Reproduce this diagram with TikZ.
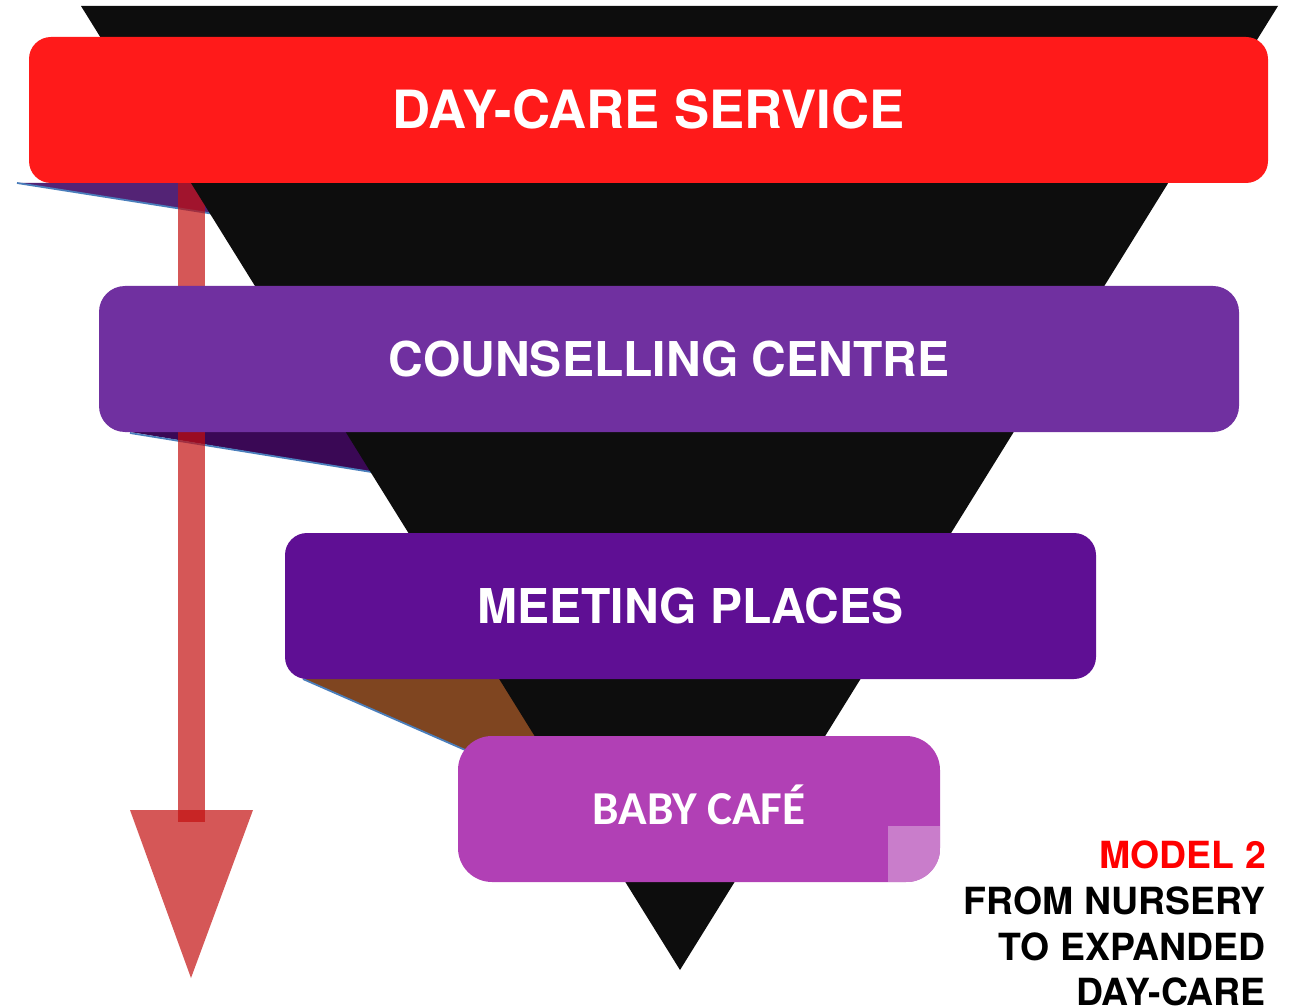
\documentclass[tikz,border=0pt]{standalone}
\usepackage{fontspec}
\setmainfont{TeX Gyre Heros}
\newfontfamily\calib{Carlito}
\definecolor{dayred}{RGB}{255,26,26}
\definecolor{counsel}{RGB}{112,48,160}
\definecolor{meetc}{RGB}{95,15,148}
\definecolor{babyc}{RGB}{177,64,181}
\definecolor{babylight}{RGB}{201,125,203}
\definecolor{wedgeA}{RGB}{83,35,117}
\definecolor{wedgeB}{RGB}{58,8,85}
\definecolor{wedgeC}{RGB}{127,69,32}
\definecolor{wedgeline}{RGB}{74,126,187}
\definecolor{arrowred}{RGB}{195,15,15}
\definecolor{funnel}{RGB}{13,13,13}
\definecolor{modelred}{RGB}{255,0,0}
\tikzset{
  box/.style={rounded corners=#1, inner sep=0pt, text=white, text depth=0pt},
  wedgeedge/.style={draw=wedgeline, line width=1.8pt},
  arrowpart/.style={fill=arrowred, fill opacity=0.7},
  sidetext/.style={anchor=base east, inner sep=0pt, font=\fontsize{37.4}{37.4}\selectfont\bfseries}
}
\begin{document}
\begin{tikzpicture}[x=1pt,y=-1pt]
\useasboundingbox (0,0) rectangle (1291,1008);
% shadow wedges
\fill[wedgeA] (17,183) -- (260,183) -- (220,214.9) -- cycle;
\draw[wedgeedge] (17,183) -- (220,214.9);
\fill[wedgeB] (130,432) -- (390,432) -- (390,475) -- cycle;
\draw[wedgeedge] (130,433) -- (390,475);
\fill[wedgeC] (303,679) -- (600,679) -- (600,774) -- (520,774) -- cycle;
\draw[wedgeedge] (303,679) -- (520,774);
% arrow shaft
\coordinate (shafttop) at (191.5,183);
\fill[arrowpart] (178,183) rectangle (205,822);
% funnel
\coordinate (fl) at (81,6);
\coordinate (fr) at (1278,6);
\coordinate (fa) at (680,970);
\fill[funnel] (fl) -- (fr) -- (fa) -- cycle;
% boxes
\node[box=22pt, fill=dayred, minimum width=1239pt, minimum height=146pt, text height=37.8pt,
      font=\fontsize{52.7}{52.7}\selectfont\bfseries] (day) at (648.5,110) {DAY-CARE SERVICE};
\node[box=26pt, fill=counsel, minimum width=1140pt, minimum height=146pt, text height=34.5pt,
      font=\fontsize{48}{48}\selectfont\bfseries] (coun) at (669,359) {COUNSELLING CENTRE};
\node[box=22pt, fill=meetc, minimum width=811pt, minimum height=146pt, text height=34.5pt,
      font=\fontsize{48}{48}\selectfont\bfseries] (meet) at (690.5,606) {MEETING PLACES};
\node[box=34pt, fill=babyc, minimum width=482pt, minimum height=146pt, text height=30.4pt,
      font=\calib\fontsize{47.2}{47.2}\selectfont\bfseries] (baby) at (699,809) {BABY CAFÉ};
\begin{scope}
\clip[rounded corners=34pt] (baby.south west) rectangle (baby.north east);
\fill[babylight] (888,826) rectangle (940,882);
\end{scope}
% arrow head
\coordinate (tipl) at (130,810);
\coordinate (tipr) at (253,810);
\coordinate (tip) at (191,978);
\fill[arrowpart] (tipl) -- (tipr) -- (tip) -- cycle;
% side caption
\node[sidetext, text=modelred] (m1) at (1266,868) {MODEL 2};
\node[sidetext] (m2) at (1266,914) {FROM NURSERY};
\node[sidetext] (m3) at (1266,960) {TO EXPANDED};
\node[sidetext] (m4) at (1266,1005) {DAY-CARE};
\end{tikzpicture}
\end{document}
